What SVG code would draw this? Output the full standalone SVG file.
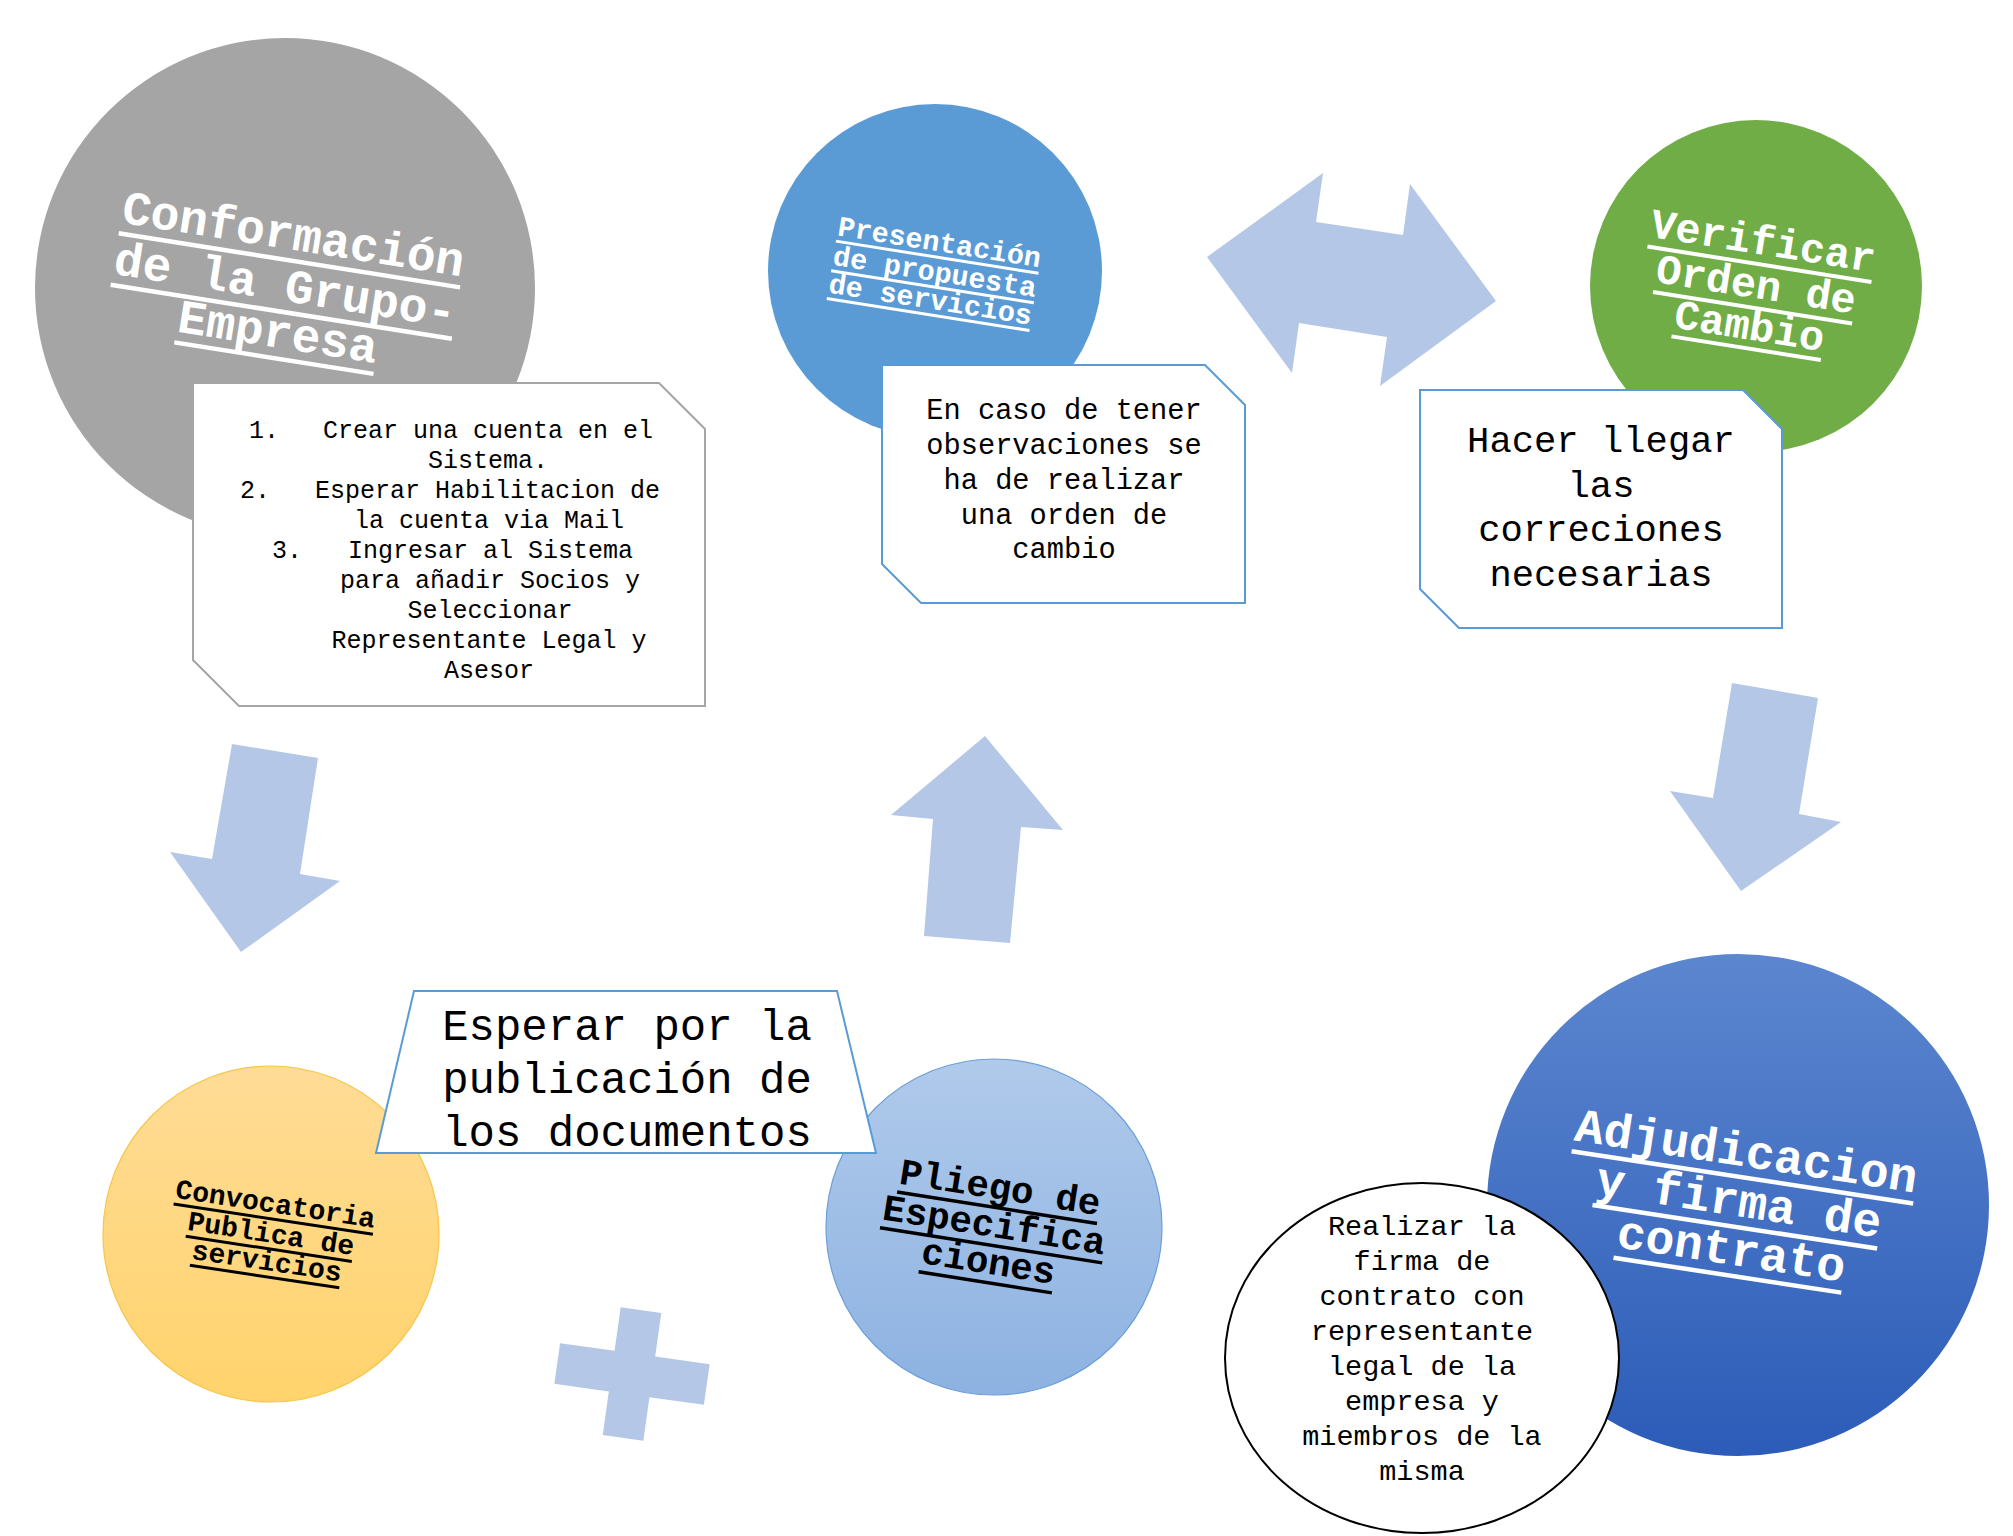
<svg xmlns="http://www.w3.org/2000/svg" width="2013" height="1536" viewBox="0 0 2013 1536">
<defs>
<style>
.mono{font-family:"Liberation Mono","Courier New",monospace;}
.title{font-family:"Liberation Mono","Courier New",monospace;font-weight:bold;text-anchor:middle;}
.tw{fill:#ffffff;}
.tb{fill:#000000;}
.ulw{stroke:#ffffff;}
.ulb{stroke:#000000;}
.arrow{fill:#b4c7e7;stroke:none;}
.boxb{fill:#ffffff;stroke:#5b9bd5;stroke-width:2;}
.boxg{fill:#ffffff;stroke:#a5a5a5;stroke-width:2;}
.body{font-family:"Liberation Mono","Courier New",monospace;fill:#000000;text-anchor:middle;}
</style>
<linearGradient id="gYellow" x1="0" y1="0" x2="0" y2="1">
<stop offset="0" stop-color="#ffdc96"/>
<stop offset="1" stop-color="#ffd36c"/>
</linearGradient>
<linearGradient id="gPliego" x1="0" y1="0" x2="0" y2="1">
<stop offset="0" stop-color="#b0caeb"/>
<stop offset="1" stop-color="#8db2e1"/>
</linearGradient>
<linearGradient id="gAdj" x1="0" y1="0" x2="0" y2="1">
<stop offset="0" stop-color="#5c86cf"/>
<stop offset="1" stop-color="#2c5cb8"/>
</linearGradient>
</defs>
<rect width="2013" height="1536" fill="#ffffff"/>

<g id="connectors">
<polygon class="arrow" points="1207,257 1323,173 1316,222 1403,235 1410,184 1496,301 1380,386 1387,337 1299,323 1292,373"/>
<polygon class="arrow" points="232,744 318,758 300,874 340,881 241,952 170,852 212,859"/>
<polygon class="arrow" points="985,736 1063,830 1021,827 1010,943 924,936 933,819 891,815"/>
<polygon class="arrow" points="1732,683 1818,698 1799,814 1841,822 1741,891 1670,791 1713,798"/>
<polygon class="arrow" transform="translate(632,1374) rotate(8)" points="-20.5,-64.5 20.5,-64.5 20.5,-20.5 75.5,-20.5 75.5,20.5 20.5,20.5 20.5,64.5 -20.5,64.5 -20.5,20.5 -75.5,20.5 -75.5,-20.5 -20.5,-20.5"/>
</g>

<g id="node-conformacion">
<circle cx="285" cy="288" r="250" fill="#a5a5a5"/>
<g transform="translate(285,288) rotate(9)">
<text class="title tw" font-size="48" x="0" y="-39">Conformación</text>
<text class="title tw" font-size="48" x="0" y="13">de la Grupo-</text>
<text class="title tw" font-size="48" x="0" y="60">Empresa</text>
<line class="ulw" stroke-width="4.5" x1="-172.8" y1="-28" x2="172.8" y2="-28"/>
<line class="ulw" stroke-width="4.5" x1="-172.8" y1="24" x2="172.8" y2="24"/>
<line class="ulw" stroke-width="4.5" x1="-100.8" y1="71" x2="100.8" y2="71"/>
</g>
</g>

<g id="note-pasos">
<polygon class="boxg" points="193,383 659,383 705,429 705,706 239,706 193,660"/>
<g class="mono" font-size="25" fill="#000000">
<text y="438"><tspan x="249">1.</tspan><tspan x="323">Crear una cuenta en el</tspan></text>
<text x="488" y="468" text-anchor="middle">Sistema.</text>
<text y="498"><tspan x="240">2.</tspan><tspan x="315">Esperar Habilitacion de</tspan></text>
<text x="489" y="528" text-anchor="middle">la cuenta via Mail</text>
<text y="558"><tspan x="272">3.</tspan><tspan x="348">Ingresar al Sistema</tspan></text>
<text x="490" y="588" text-anchor="middle">para añadir Socios y</text>
<text x="490" y="618" text-anchor="middle">Seleccionar</text>
<text x="489" y="648" text-anchor="middle">Representante Legal y</text>
<text x="489" y="678" text-anchor="middle">Asesor</text>
</g>
</g>

<g id="node-presentacion">
<circle cx="935" cy="271" r="167" fill="#5b9bd5"/>
<g transform="translate(935,271) rotate(9)">
<text class="title tw" font-size="28.5" x="0" y="-20">Presentación</text>
<text class="title tw" font-size="28.5" x="0" y="10">de propuesta</text>
<text class="title tw" font-size="28.5" x="0" y="38">de servicios</text>
<line class="ulw" stroke-width="3" x1="-102.6" y1="-14" x2="102.6" y2="-14"/>
<line class="ulw" stroke-width="3" x1="-102.6" y1="16" x2="102.6" y2="16"/>
<line class="ulw" stroke-width="3" x1="-102.6" y1="44" x2="102.6" y2="44"/>
</g>
</g>

<g id="note-observaciones">
<polygon class="boxb" points="882,365 1205,365 1245,405 1245,603 921,603 882,564"/>
<g class="body" font-size="28.7">
<text x="1064" y="419">En caso de tener</text>
<text x="1064" y="454">observaciones se</text>
<text x="1064" y="489">ha de realizar</text>
<text x="1064" y="524">una orden de</text>
<text x="1064" y="558">cambio</text>
</g>
</g>

<g id="node-verificar">
<circle cx="1756" cy="286" r="166" fill="#70ad47"/>
<g transform="translate(1756,286) rotate(9)">
<text class="title tw" font-size="42" x="0" y="-32">Verificar</text>
<text class="title tw" font-size="42" x="0" y="12">Orden de</text>
<text class="title tw" font-size="42" x="0" y="54">Cambio</text>
<line class="ulw" stroke-width="4" x1="-113.4" y1="-22" x2="113.4" y2="-22"/>
<line class="ulw" stroke-width="4" x1="-100.8" y1="22" x2="100.8" y2="22"/>
<line class="ulw" stroke-width="4" x1="-75.6" y1="63" x2="75.6" y2="63"/>
</g>
</g>

<g id="note-correcciones">
<polygon class="boxb" points="1420,390 1743,390 1782,429 1782,628 1459,628 1420,589"/>
<g class="body" font-size="37.2">
<text x="1601" y="452">Hacer llegar</text>
<text x="1601" y="497">las</text>
<text x="1601" y="541">correciones</text>
<text x="1601" y="586">necesarias</text>
</g>
</g>

<g id="node-convocatoria">
<circle cx="271" cy="1234" r="168" fill="url(#gYellow)" stroke="#f7c548" stroke-width="1.2"/>
<g transform="translate(271,1234) rotate(8.6)">
<text class="title tb" font-size="28" x="0" y="-21.5">Convocatoria</text>
<text class="title tb" font-size="28" x="0" y="8.5">Publica de</text>
<text class="title tb" font-size="28" x="0" y="36.5">servicios</text>
<line class="ulb" stroke-width="3" x1="-100.8" y1="-15" x2="100.8" y2="-15"/>
<line class="ulb" stroke-width="3" x1="-84" y1="15" x2="84" y2="15"/>
<line class="ulb" stroke-width="3" x1="-75.6" y1="43" x2="75.6" y2="43"/>
</g>
</g>

<g id="node-pliego">
<circle cx="994" cy="1227" r="168" fill="url(#gPliego)" stroke="#6c9fd7" stroke-width="1.2"/>
<g transform="translate(994,1227) rotate(9)">
<text class="title tb" font-size="37.5" x="0" y="-28">Pliego de</text>
<text class="title tb" font-size="37.5" x="0" y="10">Especifica</text>
<text class="title tb" font-size="37.5" x="0" y="47">ciones</text>
<line class="ulb" stroke-width="3.5" x1="-101.2" y1="-19.5" x2="101.2" y2="-19.5"/>
<line class="ulb" stroke-width="3.5" x1="-112.5" y1="18.5" x2="112.5" y2="18.5"/>
<line class="ulb" stroke-width="3.5" x1="-67.5" y1="56" x2="67.5" y2="56"/>
</g>
</g>

<g id="note-esperar">
<polygon class="boxb" points="414,991 837,991 876,1153 376,1153"/>
<g class="body" font-size="44">
<text x="627" y="1040">Esperar por la</text>
<text x="627" y="1093">publicación de</text>
<text x="627" y="1146">los documentos</text>
</g>
</g>

<g id="node-adjudicacion">
<circle cx="1738" cy="1205" r="251" fill="url(#gAdj)"/>
<g transform="translate(1738,1206) rotate(8.7)">
<text class="title tw" font-size="48" x="0" y="-40">Adjudicacion</text>
<text class="title tw" font-size="48" x="0" y="10">y firma de</text>
<text class="title tw" font-size="48" x="0" y="59">contrato</text>
<line class="ulw" stroke-width="4.5" x1="-172.8" y1="-29" x2="172.8" y2="-29"/>
<line class="ulw" stroke-width="4.5" x1="-144" y1="21" x2="144" y2="21"/>
<line class="ulw" stroke-width="4.5" x1="-115.2" y1="70" x2="115.2" y2="70"/>
</g>
</g>

<g id="note-firma">
<ellipse cx="1422" cy="1358" rx="197" ry="175" fill="#ffffff" stroke="#000000" stroke-width="2"/>
<g class="body" font-size="28.5">
<text x="1422" y="1235">Realizar la</text>
<text x="1422" y="1270">firma de</text>
<text x="1422" y="1305">contrato con</text>
<text x="1422" y="1340">representante</text>
<text x="1422" y="1375">legal de la</text>
<text x="1422" y="1410">empresa y</text>
<text x="1422" y="1445">miembros de la</text>
<text x="1422" y="1480">misma</text>
</g>
</g>
</svg>
